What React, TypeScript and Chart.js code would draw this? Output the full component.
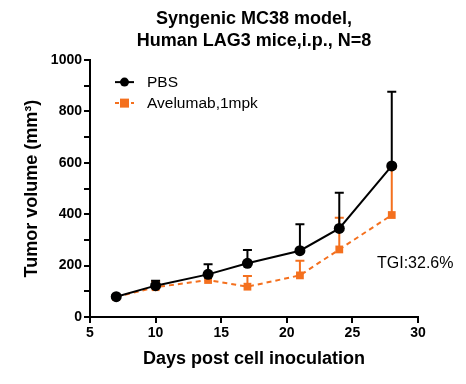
import React, { useEffect, useRef } from "react";
import { Chart, registerables } from "chart.js";

Chart.register(...registerables);

const days = [7, 10, 14, 17, 21, 24, 28];
const pbsMean = [79, 122, 166, 209, 258, 345, 588];
const pbsErr = [6, 19, 39, 52, 103, 139, 289];
const aveMean = [78, 116, 144, 118, 162, 263, 397];
const aveErr = [5, 22, 18, 42, 57, 123, 180];
const seriesNames = ["PBS", "Avelumab,1mpk"];
const titleLines = ["Syngenic MC38 model,", "Human LAG3 mice,i.p., N=8"];
const xTitle = "Days post cell inoculation";
const yTitle = "Tumor volume (mm\u00B3)";
const annotation = "TGI:32.6%";

const BLACK = "#000000";
const ORANGE = "#F4701E";
const FONT = "Arial, 'Liberation Sans', sans-serif";

const errorBarPlugin = {
  id: "errorBars",
  beforeDatasetsDraw(chart: any) {
    const ctx = chart.ctx;
    const xs = chart.scales.x;
    const ys = chart.scales.y;
    const errs = [pbsErr, aveErr];
    [1, 0].forEach((di) => {
      const ds = chart.data.datasets[di];
      ctx.save();
      ctx.strokeStyle = ds.borderColor;
      ctx.lineWidth = 2;
      ctx.setLineDash([]);
      ds.data.forEach((pt: any, i: number) => {
        const x = xs.getPixelForValue(pt.x);
        const y0 = ys.getPixelForValue(pt.y);
        const y1 = ys.getPixelForValue(pt.y + errs[di][i]);
        ctx.beginPath();
        ctx.moveTo(x, y0);
        ctx.lineTo(x, y1);
        ctx.moveTo(x - 4.5, y1);
        ctx.lineTo(x + 4.5, y1);
        ctx.stroke();
      });
      ctx.restore();
    });
  },
  afterDraw(chart: any) {
    const ctx = chart.ctx;
    const area = chart.chartArea;
    ctx.save();
    const lx = area.left + 25;
    const rows = [area.top + 22, area.top + 43];
    chart.data.datasets.forEach((ds: any, i: number) => {
      const y = rows[i];
      ctx.strokeStyle = ds.borderColor;
      ctx.lineWidth = 2;
      ctx.setLineDash(i === 1 ? [4, 4] : []);
      ctx.beginPath();
      ctx.moveTo(lx, y);
      ctx.lineTo(lx + 19, y);
      ctx.stroke();
      ctx.setLineDash([]);
      ctx.fillStyle = ds.borderColor;
      if (i === 0) {
        ctx.beginPath();
        ctx.arc(lx + 9.5, y, 4.5, 0, Math.PI * 2);
        ctx.fill();
      } else {
        ctx.fillRect(lx + 5, y - 4.5, 9, 9);
      }
      ctx.fillStyle = BLACK;
      ctx.font = `15.5px ${FONT}`;
      ctx.textBaseline = "middle";
      ctx.textAlign = "left";
      ctx.fillText(ds.label, lx + 32, y + 1);
    });
    ctx.font = `16px ${FONT}`;
    ctx.fillStyle = BLACK;
    ctx.textAlign = "left";
    ctx.textBaseline = "middle";
    ctx.fillText(annotation, 377, 264);
    ctx.restore();
  },
};

export default function App() {
  const ref = useRef<HTMLCanvasElement | null>(null);
  useEffect(() => {
    if (!ref.current) return;
    const chart = new Chart(ref.current, {
      type: "line",
      data: {
        datasets: [
          {
            label: seriesNames[0],
            data: days.map((d, i) => ({ x: d, y: pbsMean[i] })),
            borderColor: BLACK,
            backgroundColor: BLACK,
            borderWidth: 2,
            pointStyle: "circle",
            pointRadius: 5.5,
            pointBackgroundColor: BLACK,
            pointBorderWidth: 0,
            order: 0,
          },
          {
            label: seriesNames[1],
            data: days.map((d, i) => ({ x: d, y: aveMean[i] })),
            borderColor: ORANGE,
            backgroundColor: ORANGE,
            borderWidth: 2,
            borderDash: [5, 4],
            pointStyle: "rect",
            pointRadius: 5.5,
            pointBackgroundColor: ORANGE,
            pointBorderWidth: 0,
            order: 1,
          },
        ],
      },
      options: {
        animation: false,
        responsive: false,
        layout: { padding: { left: 0, right: 48, top: 0, bottom: 0 } },
        plugins: {
          legend: { display: false },
          tooltip: { enabled: false },
          title: {
            display: true,
            fullSize: false,
            text: titleLines,
            color: BLACK,
            font: { family: FONT, size: 18, weight: "bold", lineHeight: 1.17 },
            padding: { top: 9, bottom: 9 },
          },
        },
        scales: {
          x: {
            type: "linear",
            min: 5,
            max: 30,
            ticks: {
              stepSize: 5,
              color: BLACK,
              font: { family: FONT, size: 14, weight: "bold" },
              padding: 2,
            },
            grid: {
              drawOnChartArea: false,
              drawTicks: true,
              tickLength: 6,
              color: BLACK,
              lineWidth: 2,
            },
            border: { display: true, color: BLACK, width: 2 },
            title: {
              display: true,
              text: xTitle,
              color: BLACK,
              font: { family: FONT, size: 18, weight: "bold" },
              padding: { top: 4, bottom: 14 },
            },
            afterFit(scale: any) {
              scale.height = 67;
            },
          },
          y: {
            type: "linear",
            min: 0,
            max: 1000,
            ticks: {
              stepSize: 100,
              color: BLACK,
              font: { family: FONT, size: 14, weight: "bold" },
              padding: 2,
              callback: (v: any) => (Number(v) % 200 === 0 ? String(v) : ""),
            },
            grid: {
              drawOnChartArea: false,
              drawTicks: true,
              tickLength: 6,
              color: BLACK,
              lineWidth: 2,
            },
            border: { display: true, color: BLACK, width: 2 },
            title: {
              display: true,
              text: yTitle,
              color: BLACK,
              font: { family: FONT, size: 18, weight: "bold" },
              padding: { top: 21, bottom: 4 },
            },
            afterFit(scale: any) {
              scale.width = 90;
            },
          },
        },
      },
      plugins: [errorBarPlugin],
    });
    return () => chart.destroy();
  }, []);
  return (
    <div style={{ position: "fixed", left: 0, top: 0, width: 466, height: 384, background: "#fff" }}>
      <canvas ref={ref} width={466} height={384} style={{ width: 466, height: 384 }} />
    </div>
  );
}
